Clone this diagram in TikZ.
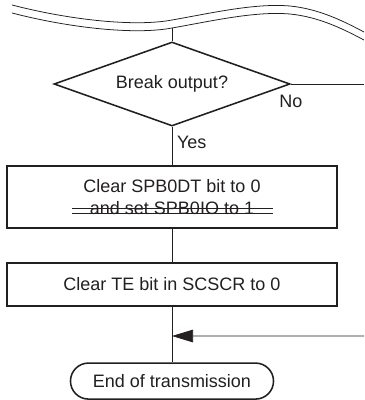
\documentclass[tikz,border=0pt]{standalone}
\usepackage{fontspec}
\setmainfont{Liberation Sans}
\usepackage{tikz}
\usetikzlibrary{shapes.geometric,arrows.meta,positioning}
\definecolor{ink}{RGB}{35,31,32}

\begin{document}
\begin{tikzpicture}[x=0.025cm, y=-0.025cm, >={Triangle[length=15pt,width=9pt]},
    font=\fontsize{12.8}{15.6}\selectfont, color=ink, line width=0.55pt,
    box/.style={draw,line width=1.1pt,minimum width=8.25cm,align=center},
    decide/.style={draw,diamond,aspect=2.81,line width=1.1pt,minimum width=5.9cm,minimum height=2.1cm,inner sep=0pt},
    term/.style={draw,rounded corners=0.45cm,line width=1.1pt,minimum width=5.075cm,minimum height=0.9cm}]
    \useasboundingbox (0,0) rectangle (364,400);

    % break in the flow
    \draw (12,5) .. controls (70,20) and (135,27) .. (172,20) .. controls (212,13) and (255,3) .. (290,6) .. controls (320,9) and (345,22) .. (364,32);
    \draw (12,13) .. controls (70,28) and (135,35) .. (172,28) .. controls (212,21) and (255,11) .. (290,14) .. controls (320,17) and (345,30) .. (364,40);
    \coordinate (wave) at (172,28);

    \node[decide] (dec) at (172,84) {Break output?};
    \node[box,minimum height=1.55cm,below of=dec,node distance=2.825cm] (clr) {Clear SPB0DT bit to 0\\and set SPB0IO to 1};
    \node[box,minimum height=1.075cm,below of=clr,node distance=2.1875cm] (te) {Clear TE bit in SCSCR to 0};
    \node[term,below of=te,node distance=2.4125cm] (end) {End of transmission};
    \coordinate (noexit) at (364,84);
    \coordinate (loopin) at (364,336);

    % struck-out part of the second line
    \draw ([xshift=-2.5cm,yshift=-0.275cm]clr.center) -- ([xshift=2.525cm,yshift=-0.275cm]clr.center);
    \draw ([xshift=-2.5cm,yshift=-0.4cm]clr.center) -- ([xshift=2.525cm,yshift=-0.4cm]clr.center);

    \draw (wave) -- (dec.north);
    \draw (dec.east) -- node[pos=0,below=4pt]{No} (noexit);
    \draw (dec.south) -- node[right,pos=0.4]{Yes} (clr.north);
    \draw (clr) -- (te);
    \draw (te) -- coordinate[pos=0.526] (join) (end);
    \draw[->] (loopin) -- (join);
  \end{tikzpicture}
\end{document}
